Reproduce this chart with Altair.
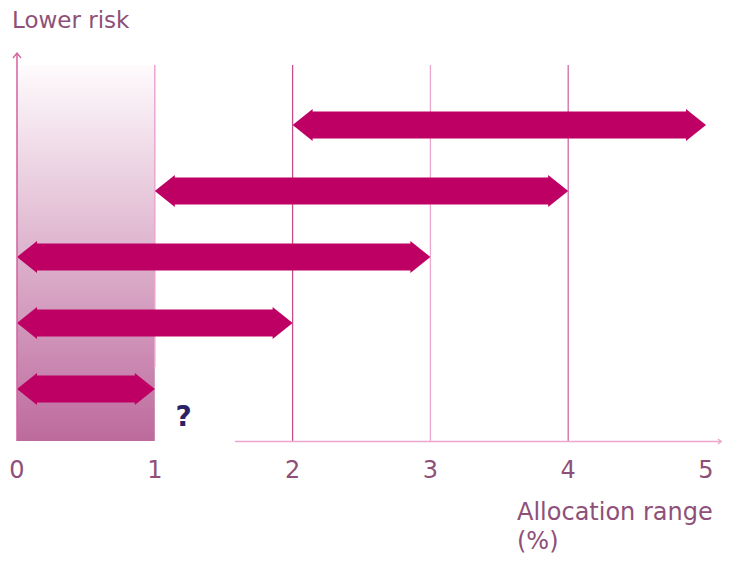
import altair as alt
import pandas as pd

# ---- data ----
levels = [5, 4, 3, 2, 1]
starts = [2, 1, 0, 0, 0]
ends = [5, 4, 3, 2, 1]
grid_x = [1, 2, 3, 4]
tick_values = [0, 1, 2, 3, 4, 5]
band_start = [0]
band_end = [1]

arrows = pd.DataFrame({"level": levels, "start": starts, "end": ends})
grid = pd.DataFrame({"g": grid_x})
ticks = pd.DataFrame({"t": tick_values, "label": [str(t) for t in tick_values]})
band = pd.DataFrame({"x0": band_start, "x1": band_end})
one = pd.DataFrame({"k": [0]})

xs = alt.Scale(domain=[0, 5], nice=False, zero=False)
ys = alt.Scale(domain=[0.21, 5.91], nice=False, zero=False)

FONT = "DejaVu Sans"
MAUVE = "#8e5078"
BAR = "#be0064"
AXIS_PINK = "#d4619f"
LIGHT_PINK = "#eaa6cd"

gradient = alt.Chart(band).mark_rect(
    color=alt.Gradient(
        gradient="linear",
        stops=[alt.GradientStop(color="#fefbfd", offset=0),
               alt.GradientStop(color="#bd6a9d", offset=1)],
        x1=0, x2=0, y1=0, y2=1,
    )
).encode(
    x=alt.X("x0:Q", scale=xs, axis=None),
    x2="x1:Q",
    y=alt.value(0),
    y2=alt.value(376),
)

grid_color = alt.Color(
    "g:O",
    scale=alt.Scale(domain=[1, 2, 3, 4], range=[LIGHT_PINK, "#c4508c", LIGHT_PINK, "#d06aa6"]),
    legend=None,
)

grid_main = alt.Chart(grid).transform_filter(alt.datum.g > 1).mark_rule(strokeWidth=1.3).encode(
    x=alt.X("g:Q", scale=xs, axis=None),
    y=alt.value(0),
    y2=alt.value(376),
    color=grid_color,
)

grid_one = alt.Chart(grid).transform_filter(alt.datum.g == 1).mark_rule(strokeWidth=1.5).encode(
    x=alt.X("g:Q", scale=xs, axis=None),
    y=alt.value(0),
    y2=alt.value(302),
    color=grid_color,
)

shafts = alt.Chart(arrows).mark_rule(
    color=BAR, strokeWidth=27, strokeCap="butt", xOffset=19, x2Offset=-19
).encode(
    x=alt.X("start:Q", scale=xs, axis=None),
    x2="end:Q",
    y=alt.Y("level:Q", scale=ys, axis=None),
)

head_left = alt.Chart(arrows).mark_point(
    shape="M0,0L1,-0.8L1,0.8Z", size=1600, filled=True, color=BAR, opacity=1, strokeWidth=0
).encode(
    x=alt.X("start:Q", scale=xs, axis=None),
    y=alt.Y("level:Q", scale=ys, axis=None),
)

head_right = alt.Chart(arrows).mark_point(
    shape="M0,0L-1,-0.8L-1,0.8Z", size=1600, filled=True, color=BAR, opacity=1, strokeWidth=0
).encode(
    x=alt.X("end:Q", scale=xs, axis=None),
    y=alt.Y("level:Q", scale=ys, axis=None),
)

y_axis_line = alt.Chart(one).mark_rule(color=AXIS_PINK, strokeWidth=1.5).encode(
    x=alt.value(0), y=alt.value(-12), y2=alt.value(376)
)
y_axis_arrow = alt.Chart(one).mark_point(
    shape="M-0.8,1L0,0L0.8,1", size=100, filled=False, color=AXIS_PINK, strokeWidth=1.3, opacity=1
).encode(x=alt.value(0), y=alt.value(-12))

x_axis_line = alt.Chart(one).mark_rule(color=LIGHT_PINK, strokeWidth=1.5).encode(
    x=alt.value(218), x2=alt.value(705), y=alt.value(376.5)
)
x_axis_arrow = alt.Chart(one).mark_point(
    shape="M-1,-0.8L0,0L-1,0.8", size=36, filled=False, color=LIGHT_PINK, strokeWidth=1.3, opacity=1
).encode(x=alt.value(704), y=alt.value(376.5))

tick_labels = alt.Chart(ticks).mark_text(
    font=FONT, fontSize=24, color=MAUVE, baseline="alphabetic", align="center"
).encode(
    x=alt.X("t:Q", scale=xs, axis=None),
    y=alt.value(413),
    text="label:N",
)

y_title = alt.Chart(one).mark_text(
    font=FONT, fontSize=23, color=MAUVE, baseline="alphabetic", align="left", text="Lower risk"
).encode(x=alt.value(-5), y=alt.value(-37))

x_title1 = alt.Chart(one).mark_text(
    font=FONT, fontSize=24, color=MAUVE, baseline="alphabetic", align="left", text="Allocation range"
).encode(x=alt.value(500), y=alt.value(455))

x_title2 = alt.Chart(one).mark_text(
    font=FONT, fontSize=24, color=MAUVE, baseline="alphabetic", align="left", text="(%)"
).encode(x=alt.value(500), y=alt.value(484))

question = alt.Chart(one).mark_text(
    font=FONT, fontSize=28, fontWeight="bold", color="#2b2163", baseline="alphabetic", align="center", text="?"
).encode(x=alt.value(166.5), y=alt.value(361))

chart = alt.layer(
    gradient, grid_main, grid_one, shafts, head_left, head_right,
    y_axis_line, y_axis_arrow, x_axis_line, x_axis_arrow,
    tick_labels, y_title, x_title1, x_title2, question,
).properties(
    width=689,
    height=376,
    autosize=alt.AutoSizeParams(type="none"),
    padding={"left": 9, "top": 57, "right": 17, "bottom": 113},
).configure_view(stroke=None)

chart.save("out.html", embed_options={"renderer": "svg", "actions": False})
